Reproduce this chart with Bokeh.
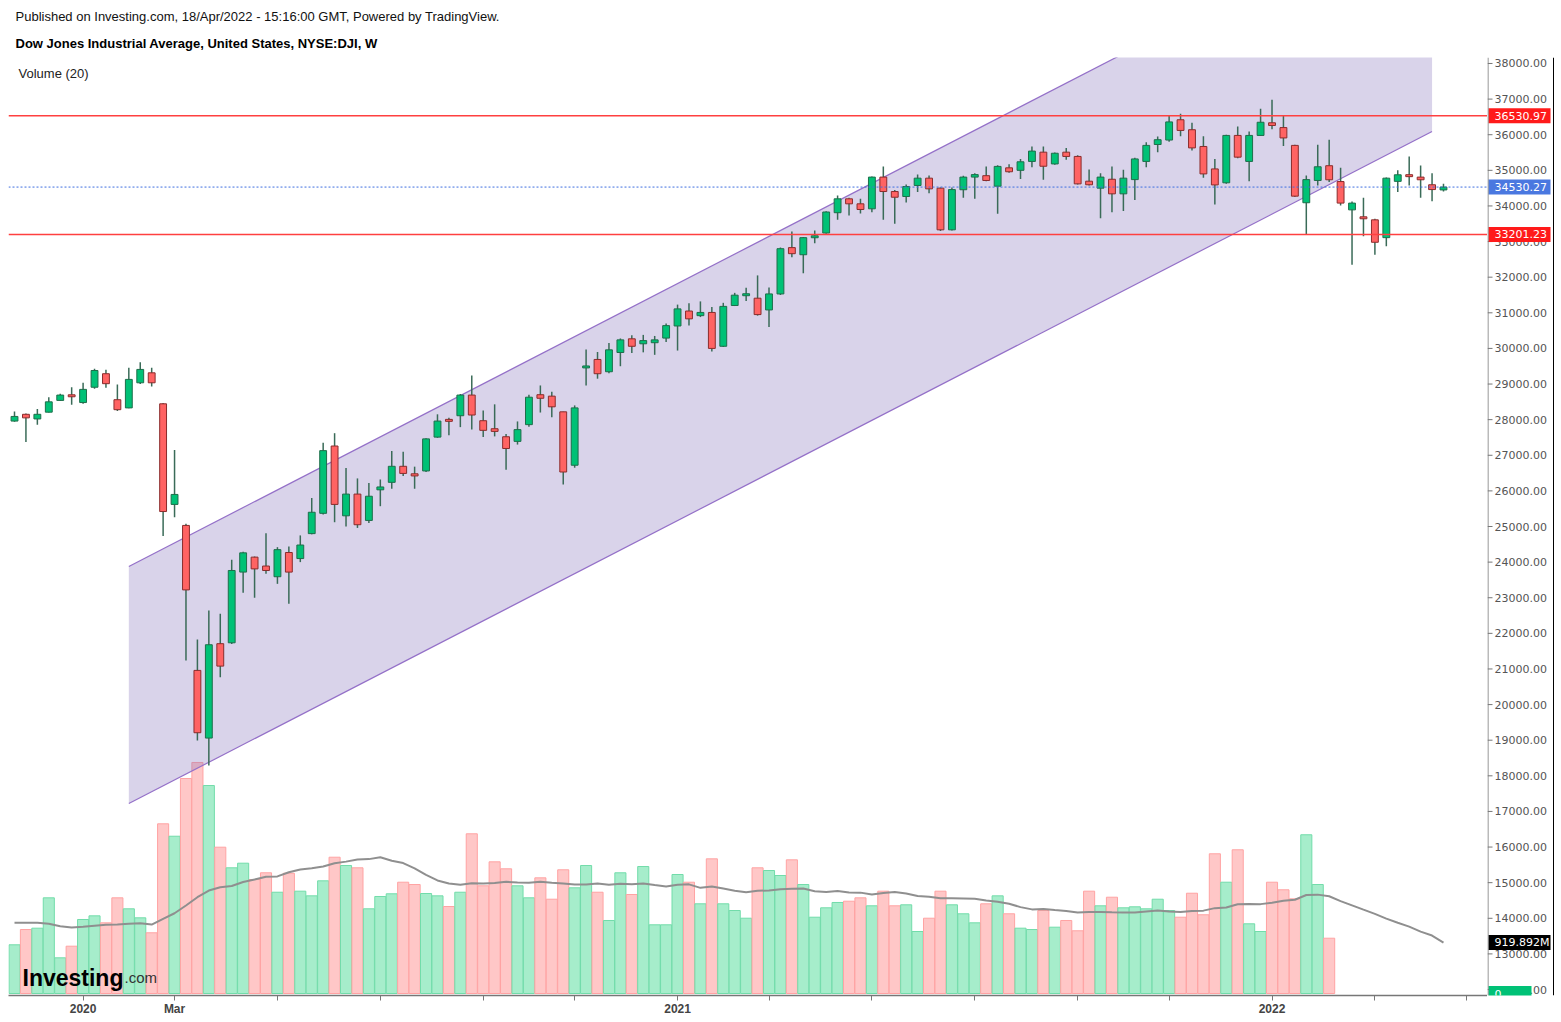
import numpy as np
from bokeh.plotting import figure
from bokeh.layouts import row
from bokeh.models import Range1d, FixedTicker, Label, ColumnDataSource, Span, Title
from bokeh.core.properties import value
from bokeh.embed import file_html
from bokeh.resources import INLINE

# ---------------- data (weekly, index 0 = week of 25 Nov 2019) ----------------
opens = [27960, 28150, 28020, 28210, 28540, 28690, 28480, 28910, 29290, 28560,
         28330, 29035, 29315, 28445, 25620, 25030, 20960, 19060, 21710, 21735,
         23720, 24140, 23890, 23590, 24270, 24100, 24800, 25370, 27260, 25300,
         25910, 25170, 26030, 26240, 26690, 26480, 26560, 27510, 28000, 28110,
         28690, 27970, 27745, 27520, 27390, 27860, 28700, 28660, 28220, 26720,
         29460, 29690, 29345, 29885, 30270, 30130, 30160, 30290, 30630, 31050,
         30920, 31010, 30060, 31205, 31500, 31410, 31080, 31530, 32830, 32630,
         33120, 33240, 33810, 34200, 34060, 33920, 34810, 34405, 34265, 34575,
         34780, 34500, 33330, 34455, 34810, 34850, 34555, 35070, 35000, 35250,
         35510, 35180, 35510, 35390, 34695, 34500, 34750, 34340, 34740, 35250,
         35725, 35850, 36420, 36140, 35670, 35040, 34650, 35980, 35250, 35980,
         36335, 36200, 35700, 34090, 34715, 35130, 34685, 33890, 33680, 33610,
         33110, 34690, 34860, 34810, 34595, 34450]
closes = [28090, 28050, 28150, 28500, 28690, 28650, 28850, 29380, 29010, 28280,
          29130, 29410, 29035, 25420, 25900, 23220, 19210, 21680, 21080, 23765,
          24260, 23810, 23765, 24350, 23720, 24480, 25400, 27130, 25620, 25910,
          25050, 25850, 26110, 26690, 26490, 26420, 27460, 27960, 27960, 28690,
          28130, 27700, 27670, 27190, 27720, 28630, 28600, 28360, 26530, 28330,
          29500, 29290, 29960, 30240, 30060, 30220, 30240, 30640, 31110, 30830,
          31010, 30000, 31180, 31495, 31515, 30950, 31530, 32800, 32660, 33110,
          33150, 33830, 34200, 34060, 33900, 34810, 34405, 34245, 34545, 34780,
          34480, 33330, 34460, 34810, 34880, 34715, 35110, 34960, 35240, 35540,
          35115, 35480, 35390, 34620, 34595, 34810, 34340, 34780, 35320, 35700,
          35860, 36360, 36120, 35630, 34900, 34590, 35980, 35370, 35980, 36350,
          36260, 35910, 34275, 34740, 35100, 34735, 34080, 34080, 33655, 32980,
          34780, 34875, 34840, 34735, 34460, 34530.27]
highs = [28230, 28170, 28300, 28630, 28725, 28910, 29035, 29430, 29400, 28990,
         29455, 29610, 29455, 28470, 27150, 25075, 21830, 22640, 22550, 24065,
         24290, 24160, 24810, 24420, 24440, 24750, 25800, 27350, 27620, 26640,
         26350, 26220, 26320, 27120, 27100, 26680, 27480, 28150, 28050, 28720,
         29240, 28260, 28430, 27600, 27950, 28700, 28960, 28780, 28220, 28400,
         29970, 29900, 30150, 30280, 30370, 30380, 30350, 30700, 31230, 31270,
         31320, 31160, 31280, 31560, 31700, 32050, 31710, 32830, 33280, 33130,
         33310, 33850, 34290, 34230, 34200, 34830, 35110, 34450, 34600, 34880,
         34855, 34520, 34520, 34850, 34920, 35110, 35140, 35170, 35320, 35670,
         35670, 35500, 35630, 35420, 35025, 34920, 35110, 35015, 35350, 35790,
         35950, 36540, 36590, 36335, 35960, 35320, 36000, 36230, 36090, 36730,
         36980, 36540, 35720, 34855, 35720, 35860, 35070, 34125, 34230, 33640,
         34800, 35000, 35390, 35135, 34920, 34620]
lows = [27940, 27370, 27855, 28200, 28530, 28420, 28445, 28870, 28895, 28240,
        28320, 29000, 28930, 24730, 25260, 21240, 18990, 18290, 20770, 21700,
        23140, 23000, 23670, 23390, 22830, 24000, 24780, 25340, 25120, 25000,
        24960, 25100, 25570, 26060, 26420, 26060, 26530, 27490, 27560, 27790,
        27720, 27510, 27530, 26590, 27300, 27800, 28200, 28070, 26180, 26650,
        28960, 29150, 29300, 29500, 29870, 29890, 29820, 30180, 29940, 30640,
        30880, 29910, 30040, 31190, 31330, 30920, 30600, 31500, 32560, 32110,
        32950, 33220, 33610, 33730, 33790, 33825, 33610, 33500, 34100, 34390,
        34360, 33300, 33310, 34230, 34200, 34690, 33780, 34930, 34760, 35090,
        34735, 35160, 35300, 34600, 34575, 33655, 33825, 33855, 34170, 35090,
        35510, 35800, 35960, 35560, 34790, 34040, 34620, 35340, 34695, 35970,
        36150, 35680, 34250, 33190, 34575, 34670, 34015, 32350, 33150, 32630,
        32870, 34390, 34575, 34230, 34135, 34405]

# weekly volume in millions (available up to week of 7 Feb 2022)
volume_m = [879, 1155, 1179, 1727, 644, 854, 1336, 1402, 1276, 1727,
            1529, 1366, 1096, 3063, 2839, 3881, 4170, 3754, 2641, 2269,
            2352, 2058, 2179, 1828, 2171, 1847, 1763, 2034, 2460, 2310,
            2269, 1529, 1751, 1800, 2009, 1967, 1805, 1763, 1570, 1828,
            2883, 1944, 2377, 2251, 1944, 1727, 2088, 1702, 2233, 1908,
            2310, 1828, 1318, 2179, 1787, 2292, 1240, 1240, 2148, 2009,
            1619, 2431, 1619, 1498, 1359, 2269, 2220, 2130, 2413, 1967,
            1377, 1547, 1643, 1666, 1727, 1583, 1847, 1583, 1601, 1119,
            1359, 1847, 1601, 1439, 1276, 1619, 1763, 1439, 1179, 1155,
            1498, 1197, 1318, 1132, 1847, 1583, 1738, 1547, 1565, 1529,
            1702, 1498, 1377, 1810, 1421, 2522, 2009, 2594, 1258, 1119,
            2009, 1872, 1709, 2865, 1967, 998]
# 20-week volume average for the first weeks (window reaches before the chart start)
vol_ma_head = [1276, 1276, 1276, 1258, 1215, 1191, 1204, 1222, 1240, 1245,
               1258, 1269, 1245, 1348, 1449, 1588, 1738, 1859, 1919]

tick_index = [6, 14, 23, 32, 41, 49, 58, 66, 75, 84, 93, 101, 110, 119, 127]
tick_labels = ["2020", "Mar", "", "", "", "", "2021", "", "", "", "", "", "2022", "", ""]

price_ticks = list(range(12000, 38001, 1000))

channel_x = [10, 124]
channel_upper = [23877, 42744]
channel_lower = [17222, 36089]

resistance = 36530.97
support = 33201.23
last_price = 34530.27
last_vol_ma_text = "919.892M"

# ---------------- derived ----------------
n = len(opens)
idx = np.arange(n)
o = np.array(opens, float); c = np.array(closes, float)
h = np.array(highs, float); l = np.array(lows, float)
up = c >= o
mid = (o + c) / 2
min_body = 55.0
body_top = np.maximum(np.maximum(o, c), mid + min_body / 2)
body_bot = np.minimum(np.minimum(o, c), mid - min_body / 2)

vol_all = np.array(volume_m + [0] * (n - len(volume_m)), float)
ma = np.zeros(n)
ma[:len(vol_ma_head)] = vol_ma_head
for i in range(len(vol_ma_head), n):
    ma[i] = vol_all[i - 19:i + 1].mean()

FONT = "Liberation Sans"
H = 1022
TOP, BOT = 57, 27

price_range = Range1d(11832, 38168)
vol_range = Range1d(-36, 16895)

# ---------------- main figure ----------------
p = figure(width=1487, height=H,
           x_range=Range1d(-0.525, 128.85), y_range=price_range,
           y_axis_location=None, output_backend="svg", toolbar_location=None,
           min_border_left=8, min_border_right=0, min_border_top=TOP, min_border_bottom=BOT)
p.extra_y_ranges = {"vol": vol_range}
p.grid.visible = False
p.outline_line_color = None
p.background_fill_color = "white"
p.border_fill_color = "white"

# header lines (first added sits nearest the frame)
p.add_layout(Title(text="Dow Jones Industrial Average, United States, NYSE:DJI, W",
                   text_font=FONT, text_font_size="13px", text_font_style="bold",
                   text_color="#000000", align="left", offset=7, standoff=14), "above")
p.add_layout(Title(text="Published on Investing.com, 18/Apr/2022 - 15:16:00 GMT, Powered by TradingView.",
                   text_font=FONT, text_font_size="13px", text_font_style="normal",
                   text_color="#111111", align="left", offset=7, standoff=5), "above")

# bottom time axis
labelled = [t for t, s in zip(tick_index, tick_labels) if s]
unlabelled = [t for t, s in zip(tick_index, tick_labels) if not s]
xa = p.xaxis[0]
xa.ticker = FixedTicker(ticks=labelled, minor_ticks=unlabelled)
xa.major_label_overrides = {t: s for t, s in zip(tick_index, tick_labels) if s}
xa.major_label_text_font = FONT
xa.major_label_text_font_size = "12px"
xa.major_label_text_font_style = "bold"
xa.major_label_text_color = "#444444"
xa.major_label_standoff = 1
xa.major_tick_out = 5
xa.major_tick_in = 0
xa.minor_tick_out = 5
xa.minor_tick_in = 0
xa.major_tick_line_color = "#777777"
xa.minor_tick_line_color = "#777777"
xa.axis_line_color = "#777777"
xa.axis_line_width = 1.5

# volume bars
vsrc = ColumnDataSource(dict(
    x=idx[:len(volume_m)], top=volume_m,
    fill=["#a6edcb" if u else "#ffc7c7" for u in up[:len(volume_m)]],
    line=["#72dcaa" if u else "#ffa3a3" for u in up[:len(volume_m)]],
))
p.vbar(x="x", top="top", bottom=0, width=0.97, fill_color="fill", line_color="line",
       line_width=1, y_range_name="vol", source=vsrc)
p.line(idx, ma, y_range_name="vol", line_color="#8f8f8f", line_width=2)

# channel
p.patch([channel_x[0], channel_x[1], channel_x[1], channel_x[0]],
        [channel_upper[0], channel_upper[1], channel_lower[1], channel_lower[0]],
        fill_color="#806cb9", fill_alpha=0.3, line_color=None)
p.line(channel_x, channel_upper, line_color="#9470c8", line_width=1.2)
p.line(channel_x, channel_lower, line_color="#9470c8", line_width=1.2)

# candles
csrc = ColumnDataSource(dict(
    x=idx, lo=l, hi=h, top=body_top, bot=body_bot,
    fill=["#00c176" if u else "#ff6363" for u in up],
    line=["#1e6e4a" if u else "#8a2c2c" for u in up],
))
p.segment(x0="x", y0="lo", x1="x", y1="hi", line_color="#3a6b58", line_width=1.5, source=csrc)
p.vbar(x="x", top="top", bottom="bot", width=0.6, fill_color="fill", line_color="line",
       line_width=1, source=csrc)

# horizontal levels
p.add_layout(Span(location=resistance, dimension="width", line_color="#ff4040", line_width=1.5))
p.add_layout(Span(location=support, dimension="width", line_color="#ff4040", line_width=1.5))
p.add_layout(Span(location=last_price, dimension="width", line_color="#3f6fe0",
                  line_width=1, line_dash="2 2"))

# texts inside the frame
p.add_layout(Label(x=10, y=(H - TOP - BOT) - (73 - TOP), x_units="screen", y_units="screen",
                   text="Volume (20)", text_font=FONT, text_font_size="13px",
                   text_color="#222222", text_baseline="middle"))
p.add_layout(Label(x=14, y=(H - BOT) - 977, x_units="screen", y_units="screen", text="Investing",
                   text_font=FONT, text_font_size="23px", text_font_style="bold",
                   text_color="#000000", text_baseline="alphabetic"))
p.add_layout(Label(x=116, y=(H - BOT) - 977, x_units="screen", y_units="screen", text=".com",
                   text_font=FONT, text_font_size="15px", text_color="#333333",
                   text_baseline="alphabetic"))

# ---------------- right price scale panel ----------------
r = figure(width=74, height=H, x_range=Range1d(0, 74), y_range=price_range,
           x_axis_location=None, y_axis_location=None, output_backend="svg",
           toolbar_location=None, min_border_left=0, min_border_right=0,
           min_border_top=TOP, min_border_bottom=BOT)
r.extra_y_ranges = {"vol": vol_range}
r.grid.visible = False
r.outline_line_color = None
r.background_fill_color = "white"
r.border_fill_color = "white"

r.add_layout(Span(location=0.5, dimension="height", line_color="#777777", line_width=1))
r.add_layout(Span(location=66, dimension="height", line_color="#000000", line_width=1))

tsrc = ColumnDataSource(dict(y=price_ticks, x0=[0] * len(price_ticks), x1=[5] * len(price_ticks),
                             tx=[7] * len(price_ticks), lab=[f"{t:.2f}" for t in price_ticks]))
r.segment(x0="x0", y0="y", x1="x1", y1="y", line_color="#777777", line_width=1, source=tsrc)
r.text(x="tx", y="y", text="lab", text_font=value("DejaVu Sans"), text_font_size="11px",
       text_color="#555555", text_baseline="middle", text_align="left", source=tsrc)

def box(y, text, bg, rng="default", w=62):
    r.rect(x=[1 + w / 2], y=[y], width=[w], height=[15], height_units="screen",
           fill_color=bg, line_color=None, y_range_name=rng)
    r.text(x=[7], y=[y], text=[text], text_font=value("DejaVu Sans"), text_font_size="11px",
           text_color="white", text_baseline="middle", text_align="left", y_range_name=rng)

box(resistance, f"{resistance:.2f}", "#ff1a1a")
box(support, f"{support:.2f}", "#ff1a1a")
box(last_price, f"{last_price:.2f}", "#4a78e0")
box(ma[-1], last_vol_ma_text, "#000000", "vol")
box(0, "0", "#00c176", "vol", w=43)

layout = row(p, r)
open("out.html", "w").write(file_html(layout, INLINE))
